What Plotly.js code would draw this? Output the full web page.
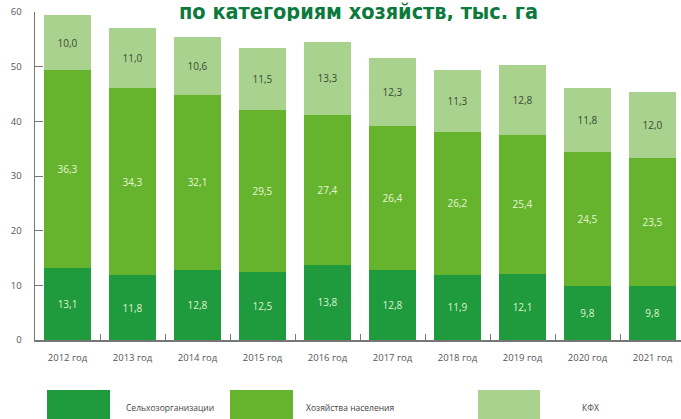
<!DOCTYPE html>
<html>
<head>
<meta charset="utf-8">
<script src="https://cdn.plot.ly/plotly-3.0.1.min.js"></script>
<style>html,body{margin:0;padding:0;background:#fff;}#chart{width:681px;height:419px;}</style>
</head>
<body>
<div id="chart"></div>
<script>
const years = ["2012 год","2013 год","2014 год","2015 год","2016 год","2017 год","2018 год","2019 год","2020 год","2021 год"];
const selkhoz = [13.1, 11.8, 12.8, 12.5, 13.8, 12.8, 11.9, 12.1, 9.8, 9.8];
const naselenie = [36.3, 34.3, 32.1, 29.5, 27.4, 26.4, 26.2, 25.4, 24.5, 23.5];
const kfh = [10.0, 11.0, 10.6, 11.5, 13.3, 12.3, 11.3, 12.8, 11.8, 12.0];
const seriesNames = ["Сельхозорганизации", "Хозяйства населения", "КФХ"];
const titleText = "по категориям хозяйств, тыс. га";
const yTicks = [0, 10, 20, 30, 40, 50, 60];

const W = 681, H = 419;
const M = {l: 35, r: 0, t: 12, b: 79};
const PW = W - M.l - M.r, PH = H - M.t - M.b;
const px = x => (x - M.l) / PW;
const py = y => (H - M.b - y) / PH;

const fmt = v => v.toFixed(1).replace('.', ',');
const colors = ["#1f9a3c", "#66b42e", "#a9d28e"];
const textColors = ["#dff2cf", "#e6f5d6", "#3b4a35"];
const font = "'Open Sans', 'Liberation Sans', sans-serif";

const traces = [selkhoz, naselenie, kfh].map((vals, i) => ({
  type: 'bar',
  name: seriesNames[i],
  x: years,
  y: vals,
  text: vals.map(fmt),
  textposition: 'inside',
  insidetextanchor: 'middle',
  textangle: 0,
  constraintext: 'none',
  textfont: {family: font, size: 10, color: textColors[i]},
  marker: {color: colors[i], line: {width: 0}},
  hoverinfo: 'none',
  showlegend: false
}));

const legendRects = [[47, 110], [230, 293], [478, 540]];
const legendLabelX = [124, 304, 580];
const shapes = legendRects.map((r, i) => ({
  type: 'rect', xref: 'paper', yref: 'paper',
  x0: px(r[0]), x1: px(r[1]), y0: py(425), y1: py(390),
  fillcolor: colors[i], line: {width: 0}
}));
const annotations = seriesNames.map((n, i) => ({
  xref: 'paper', yref: 'paper', x: px(legendLabelX[i]), y: py(407),
  xanchor: 'left', yanchor: 'middle', showarrow: false,
  text: n, font: {family: font, size: 8.5, color: '#444'}
}));
annotations.push({
  xref: 'paper', yref: 'paper', x: px(358), y: py(0),
  xanchor: 'center', yanchor: 'top', showarrow: false,
  height: 20, borderpad: 0,
  text: '<b>' + titleText + '</b>',
  font: {family: "'DejaVu Sans Condensed', 'Liberation Sans Narrow', sans-serif", size: 21.5, color: '#0b7a3c'}
});

const layout = {
  width: W, height: H,
  margin: M,
  paper_bgcolor: '#fff', plot_bgcolor: '#fff',
  barmode: 'stack',
  bargap: 0.29,
  showlegend: false,
  xaxis: {
    type: 'category',
    range: [-0.5, -0.5 + PW / 65],
    showline: true, linecolor: '#777', linewidth: 1.5,
    ticks: 'inside', tickson: 'boundaries', ticklen: 6, tickcolor: '#777',
    tickfont: {family: font, size: 9.5, color: '#555'},
    ticklabelstandoff: 8,
    showgrid: false, zeroline: false, fixedrange: true
  },
  yaxis: {
    range: [0, 60],
    tickvals: yTicks,
    showline: true, linecolor: '#777', linewidth: 1.5,
    ticks: 'inside', ticklen: 8, tickcolor: '#777',
    tickfont: {family: font, size: 9.5, color: '#555'},
    ticklabelstandoff: 10,
    showgrid: false, zeroline: false, fixedrange: true
  },
  shapes: shapes,
  annotations: annotations
};

Plotly.newPlot('chart', traces, layout, {staticPlot: true, displayModeBar: false});
</script>
</body>
</html>
